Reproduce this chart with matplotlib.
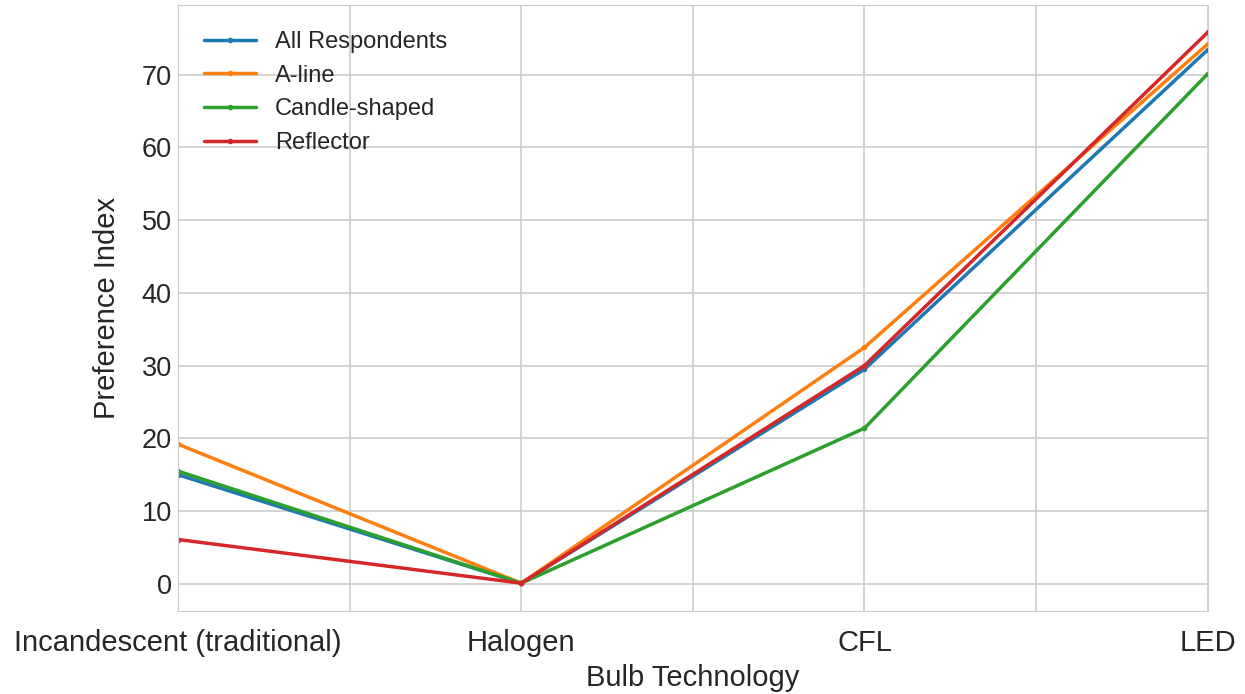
import numpy as np
import matplotlib.pyplot as plt
import seaborn as sns

technologies = ["Incandescent (traditional)", "Halogen", "CFL", "LED"]
all_respondents = [15.0, 0.1, 29.5, 73.4]
a_line = [19.2, 0.1, 32.5, 74.2]
candle_shaped = [15.5, 0.1, 21.4, 70.1]
reflector = [6.1, 0.1, 30.0, 75.8]

sns.set_style("whitegrid")
plt.rcParams['font.family'] = ['Liberation Sans', 'DejaVu Sans']

fig, ax = plt.subplots(figsize=(12.45, 6.94), dpi=100)
x = np.arange(len(technologies))
ax.plot(x, all_respondents, marker='.', lw=2.5, color='#1f77b4', label="All Respondents")
ax.plot(x, a_line, marker='.', lw=2.5, color='#ff7f0e', label="A-line")
ax.plot(x, candle_shaped, marker='.', lw=2.5, color='#2ca02c', label="Candle-shaped")
ax.plot(x, reflector, marker='.', lw=2.5, color='#d62728', label="Reflector")

ax.set_xlim(0, 3)
ax.set_xticks(x)
ax.set_xticklabels(technologies, fontsize=21)
ax.set_xticks(np.arange(0.5, 3, 1), minor=True)
ax.grid(True, which='both', color='#cccccc', lw=1.2)
ax.tick_params(axis='x', which='major', pad=10)
ax.tick_params(axis='y', labelsize=19.5, pad=1)
ax.set_xlabel("Bulb Technology", fontsize=21, labelpad=5)
ax.set_ylabel("Preference Index", fontsize=21, labelpad=15)
ax.legend(loc='upper left', fontsize=17, frameon=False, labelspacing=0.5,
          handlelength=2.2, handletextpad=0.8, borderaxespad=0.7)

plt.subplots_adjust(left=0.143, right=0.97, top=0.993, bottom=0.12)
plt.savefig("out.png")
